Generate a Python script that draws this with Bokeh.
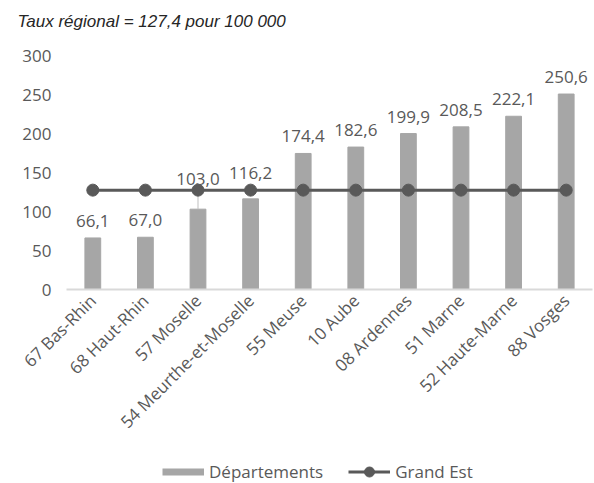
import math
from bokeh.plotting import figure
from bokeh.layouts import column
from bokeh.models import (ColumnDataSource, FixedTicker, Legend, LegendItem, Title,
                          Range1d, FactorRange, LabelSet)
from bokeh.core.properties import value
from bokeh.embed import file_html
from bokeh.resources import INLINE

# ---- data ----
departements = ["67 Bas-Rhin", "68 Haut-Rhin", "57 Moselle", "54 Meurthe-et-Moselle",
                "55 Meuse", "10 Aube", "08 Ardennes", "51 Marne", "52 Haute-Marne", "88 Vosges"]
taux = [66.1, 67.0, 103.0, 116.2, 174.4, 182.6, 199.9, 208.5, 222.1, 250.6]
taux_regional = 127.4
y_ticks = [0, 50, 100, 150, 200, 250, 300]
titre = "Taux régional = 127,4 pour 100 000"
series_names = ["Départements", "Grand Est"]

FONT = "Open Sans"
DARK = "#595959"
BAR = "#a6a6a6"

labels = [f"{v:.1f}".replace(".", ",") for v in taux]
# label lift above bar top (px); Moselle & Meurthe-et-Moselle lifted to avoid the line
lift = [11, 11, 24, 20, 11, 11, 11, 11, 11, 11]

src = ColumnDataSource(dict(x=departements, top=taux, lab=labels, dy=lift,
                            reg=[taux_regional] * len(departements)))

# ---- title strip ----
tfig = figure(width=594, height=42, x_range=Range1d(0, 1), y_range=Range1d(0, 1),
              output_backend="svg", toolbar_location=None, min_border=0,
              min_border_left=66, min_border_right=2,
              outline_line_color=None, background_fill_color="white",
              border_fill_color="white")
tfig.axis.visible = False
tfig.grid.visible = False
tfig.title = Title(text=titre, text_font="Liberation Sans", text_font_style="italic",
                   text_font_size="17px", text_color="#262626", align="left",
                   offset=-49, standoff=19)

# ---- main chart ----
fig = figure(x_range=FactorRange(*departements, range_padding=0),
             y_range=Range1d(0, 300), width=594, height=411,
             output_backend="svg", toolbar_location=None,
             min_border_left=66, min_border_right=2, min_border_top=13,
             min_border_bottom=164, background_fill_color="white",
             border_fill_color="white", outline_line_color=None)

fig.xgrid.grid_line_color = None
fig.ygrid.grid_line_color = None

fig.yaxis.ticker = FixedTicker(ticks=y_ticks)
fig.yaxis.axis_line_color = None
fig.yaxis.major_tick_line_color = None
fig.yaxis.minor_tick_line_color = None
fig.yaxis.major_label_text_font = FONT
fig.yaxis.major_label_text_font_size = "17px"
fig.yaxis.major_label_text_color = DARK
fig.yaxis.major_label_standoff = 9

fig.xaxis.axis_line_color = "#d9d9d9"
fig.xaxis.axis_line_width = 2
fig.xaxis.major_tick_line_color = None
fig.xaxis.minor_tick_line_color = None
fig.xaxis.major_label_orientation = math.pi / 4
fig.xaxis.major_label_text_font = FONT
fig.xaxis.major_label_text_font_size = "17px"
fig.xaxis.major_label_text_color = DARK
fig.xaxis.major_label_standoff = 2

fig.vbar(x="x", top="top", width=0.3, source=src, color=BAR)

# leader line for Moselle label
fig.segment(x0=[departements[2]], y0=[taux[2]], x1=[departements[2]], y1=[taux_regional],
            line_color="#bfbfbf", line_width=1)

fig.line(x="x", y="reg", source=src, line_color=DARK, line_width=3)
fig.scatter(x="x", y="reg", source=src, size=12, color=DARK)

fig.add_layout(LabelSet(x="x", y="top", text="lab", source=src, y_offset="dy",
                        text_align="center", text_baseline="bottom",
                        text_font=value(FONT), text_font_size="17px", text_color=DARK))

# ---- legend strip (proxy renderers lie outside its frame, only the legend shows) ----
leg = figure(width=594, height=30, x_range=Range1d(0, 1), y_range=Range1d(0, 1),
             output_backend="svg", toolbar_location=None, min_border=0,
             min_border_left=66, min_border_right=2,
             outline_line_color=None, background_fill_color="white",
             border_fill_color="white")
leg.axis.visible = False
leg.grid.visible = False
sw = leg.line(x=[0, 1], y=[-5, -5], line_color=BAR, line_width=7, line_cap="butt")
gl = leg.line(x=[0, 1], y=[-5, -5], line_color=DARK, line_width=3)
gs = leg.scatter(x=[0.5], y=[-5], size=12, color=DARK)

legend = Legend(items=[LegendItem(label=series_names[0], renderers=[sw]),
                       LegendItem(label=series_names[1], renderers=[gl, gs])],
                orientation="horizontal", location=(96, -1),
                glyph_width=42, glyph_height=25, label_standoff=5, spacing=25,
                padding=0, margin=0, border_line_color=None,
                background_fill_alpha=0, label_text_font=FONT,
                label_text_font_size="17px", label_text_color=DARK)
leg.add_layout(legend)

p = column(tfig, fig, leg, spacing=0)

open("out.html", "w").write(file_html(p, INLINE))
